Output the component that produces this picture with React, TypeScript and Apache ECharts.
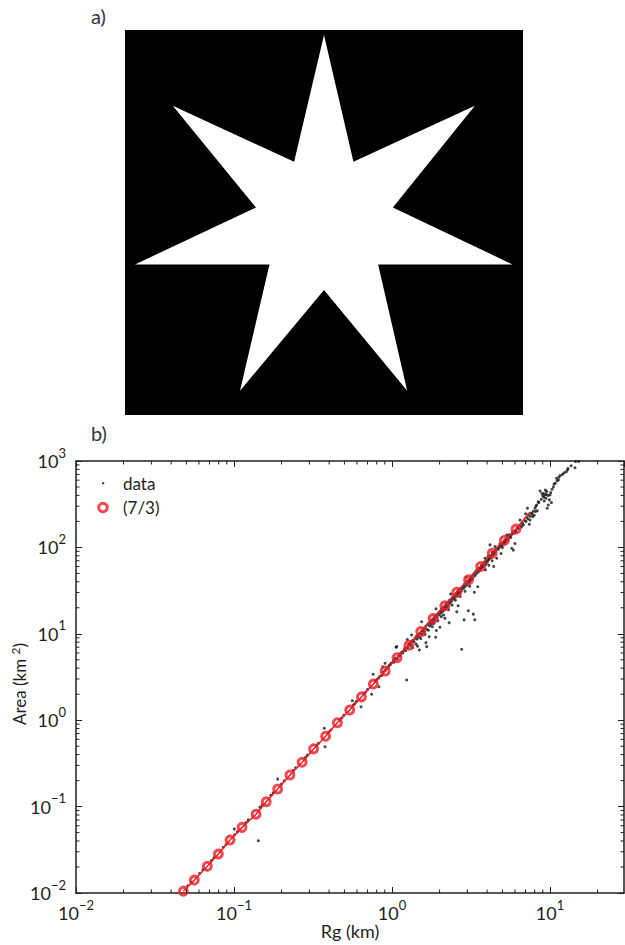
import React, { useEffect, useRef } from 'react';
import * as echarts from 'echarts';

// ---- panel a) : heptagram outline (panel units 0..100, y up)
const starVertices: [number, number][] = [
  [50, 98.7], [57.4, 65.8], [87.9, 80.3], [67.3, 53.9], [97.4, 39.1], [63.6, 39.1], [70.9, 6.3],
  [50, 32.5], [28.9, 6.3], [36.3, 39.1], [2.5, 39.1], [32.9, 53.9], [12.0, 80.3], [42.5, 65.8],
];

// ---- panel b) : axes
const xMin = 0.01;
const xMax = 29.4;
const yMin = 0.01;
const yMax = 1000;
const xMinorTicks = [
  0.02, 0.03, 0.04, 0.05, 0.06, 0.07, 0.08, 0.09,
  0.2, 0.3, 0.4, 0.5, 0.6, 0.7, 0.8, 0.9,
  2, 3, 4, 5, 6, 7, 8, 9, 20,
];
const yMinorTicks = [
  0.02, 0.03, 0.04, 0.05, 0.06, 0.07, 0.08, 0.09,
  0.2, 0.3, 0.4, 0.5, 0.6, 0.7, 0.8, 0.9,
  2, 3, 4, 5, 6, 7, 8, 9,
  20, 30, 40, 50, 60, 70, 80, 90,
  200, 300, 400, 500, 600, 700, 800, 900,
];

// ---- (7/3) model: circle markers
const fitRg = [0.0478, 0.0561, 0.0678, 0.0796, 0.0944, 0.1125, 0.138, 0.16, 0.189, 0.226, 0.27, 0.319, 0.38, 0.451, 0.54, 0.64, 0.762, 0.906, 1.076, 1.28, 1.52, 1.82, 2.16, 2.57, 3.05, 3.64, 4.31, 5.14, 6.09];
const fitArea = [0.0105, 0.0141, 0.0204, 0.0282, 0.041, 0.0575, 0.0817, 0.114, 0.16, 0.232, 0.326, 0.465, 0.652, 0.935, 1.31, 1.86, 2.62, 3.71, 5.28, 7.36, 10.6, 15.0, 21.1, 30.2, 42.3, 60.1, 85.5, 120, 163];
const fitLineEnd: [number, number] = [7.47, 255];

// ---- measured data (Rg km, Area km^2)
const dataPoints: [number, number][] = [
  [0.051, 0.0121], [0.0535, 0.0132], [0.0605, 0.0168], [0.0635, 0.0186], [0.072, 0.0238], [0.0745, 0.0256],
  [0.0855, 0.0337], [0.089, 0.0362], [0.101, 0.0472], [0.105, 0.051], [0.1005, 0.0551], [0.119, 0.0655],
  [0.123, 0.0702], [0.1426, 0.0403], [0.146, 0.0985], [0.151, 0.104], [0.171, 0.135], [0.177, 0.144],
  [0.189, 0.208], [0.2, 0.183], [0.208, 0.199], [0.238, 0.262], [0.246, 0.281], [0.284, 0.372], [0.292, 0.395],
  [0.335, 0.515], [0.343, 0.54], [0.373, 0.806], [0.377, 0.493], [0.398, 0.728], [0.41, 0.77], [0.468, 1.01],
  [0.48, 1.06], [0.495, 1.14], [0.561, 1.68], [0.568, 1.49], [0.58, 1.55], [0.595, 1.64], [0.637, 1.43],
  [0.665, 2.04], [0.68, 2.12], [0.7, 2.27], [0.743, 2.0], [0.76, 3.4], [0.785, 2.83], [0.8, 2.95], [0.827, 2.44],
  [0.835, 3.2], [0.873, 4.16], [0.904, 4.56], [0.93, 3.98], [0.95, 4.15], [0.975, 4.4], [0.99, 4.6],
  [0.82, 3.05], [0.86, 3.3], [0.88, 3.6], [0.91, 3.8], [0.96, 4.3],
  [1.02, 4.9], [1.05, 5.25], [1.06, 6.98], [1.07, 7.1], [1.1, 5.5], [1.12, 5.85], [1.15, 6.1], [1.18, 6.3],
  [1.2, 6.75], [1.24, 2.92], [1.24, 7.0], [1.25, 8.6], [1.27, 7.5], [1.3, 7.7], [1.33, 8.2], [1.33, 9.7],
  [1.36, 8.4], [1.4, 8.9], [1.43, 9.4], [1.45, 7.2], [1.46, 9.7], [1.49, 6.5], [1.5, 10.1], [1.54, 10.7],
  [1.54, 13.8], [1.57, 11.2], [1.6, 11.6], [1.64, 7.9], [1.64, 12.3], [1.66, 7.1], [1.68, 12.8], [1.71, 13.3],
  [1.72, 9.25], [1.75, 13.9], [1.79, 14.5], [1.84, 13.2], [1.84, 15.3], [1.88, 16.0], [1.89, 9.12], [1.9, 19.5],
  [1.91, 10.9], [1.92, 16.6], [1.97, 17.5], [2.01, 11.9], [2.02, 18.3], [2.06, 19.2], [2.1, 20.1], [2.15, 21.0],
  [2.16, 15.1], [2.2, 22.2], [2.25, 23.0], [2.3, 13.4], [2.3, 24.2], [2.35, 28.8], [2.36, 25.3], [2.42, 26.6],
  [2.48, 27.9], [2.55, 29.4], [2.57, 18.0], [2.6, 30.9], [2.62, 21.1], [2.66, 32.1], [2.72, 33.6], [2.76, 6.62],
  [2.8, 35.2], [2.86, 14.5], [2.86, 37.1], [2.93, 38.8], [2.95, 45.0], [3.0, 40.8], [3.04, 18.5], [3.08, 42.9],
  [3.15, 45.1], [3.22, 47.2], [3.27, 16.9], [3.3, 49.8], [3.32, 30.2], [3.34, 14.5], [3.38, 52.3], [3.45, 54.6],
  [3.49, 35.1],
  [1.35, 6.9], [1.52, 8.8], [1.7, 11.0], [1.95, 14.2], [2.12, 16.5], [2.4, 21.5], [2.7, 27.0], [3.1, 35.5],
  [2.28, 19.0], [1.62, 9.8], [2.05, 15.8], [2.52, 24.5], [2.9, 31.0], [1.42, 7.6], [1.8, 12.1],
  [1.03, 4.7], [1.08, 5.1], [1.13, 5.6], [1.17, 6.0], [1.22, 6.4], [1.26, 6.9], [1.31, 7.3], [1.38, 8.1],
  [1.44, 8.7], [1.48, 9.2], [1.55, 9.9], [1.59, 10.6], [1.66, 11.3], [1.73, 12.3], [1.77, 12.9], [1.82, 13.8],
  [1.86, 14.6], [1.93, 15.6], [1.99, 16.6],
  [2.04, 17.4], [2.08, 18.0], [2.13, 18.8], [2.18, 19.8], [2.22, 20.6], [2.27, 21.6], [2.33, 22.7], [2.38, 23.8],
  [2.45, 25.1], [2.5, 26.3], [2.58, 27.5], [2.63, 29.1], [2.68, 30.0], [2.75, 31.6], [2.83, 33.4], [2.88, 34.8],
  [2.97, 36.5], [3.05, 38.6], [3.12, 40.5], [3.18, 42.5], [3.25, 44.2], [3.35, 47.0], [3.42, 49.5],
  [3.55, 57.2], [3.6, 58], [3.68, 62.1], [3.75, 60], [3.8, 66.0], [3.88, 74.8], [3.9, 55], [3.95, 70.2],
  [4.0, 72], [4.05, 78], [4.1, 62], [4.15, 80], [4.17, 107], [4.22, 76], [4.3, 88], [4.3, 70], [4.4, 85],
  [4.4, 60], [4.49, 102], [4.55, 94], [4.6, 75], [4.65, 98], [4.75, 104], [4.83, 110], [4.9, 85], [4.95, 108],
  [5.05, 114], [5.15, 120], [5.25, 124], [5.32, 139], [5.4, 131], [5.52, 140], [5.6, 136], [5.72, 97.7],
  [5.8, 150], [5.86, 93], [6.0, 111], [6.05, 158], [6.2, 170], [6.46, 207], [6.5, 180], [6.78, 182], [6.9, 205],
  [3.52, 52], [3.58, 54.5], [3.65, 57], [3.72, 59.5], [3.82, 62], [3.86, 68], [3.93, 64], [4.02, 68],
  [4.08, 72], [4.13, 74], [4.25, 79], [4.35, 82], [4.45, 88], [4.52, 90], [4.7, 95], [4.78, 100], [4.88, 104],
  [5.0, 100], [5.1, 110], [5.2, 115], [5.35, 122], [5.45, 126], [5.65, 130], [5.75, 142], [5.95, 146],
  [6.1, 152], [6.3, 165], [6.6, 172], [6.7, 190], [7.05, 200], [7.25, 215], [7.5, 230], [7.7, 245],
  [8.1, 260], [8.15, 300],
  [7.0, 245], [7.1, 222], [7.2, 284], [7.3, 238], [7.4, 185], [7.47, 207], [7.6, 250], [7.77, 227], [7.85, 262],
  [7.95, 235], [8.04, 284], [8.23, 310], [8.3, 265], [8.43, 338], [8.65, 450], [9.0, 395], [9.1, 420],
  [9.2, 345], [9.29, 404], [9.35, 460], [9.43, 370], [9.53, 442], [9.6, 284], [9.76, 310], [9.9, 355],
  [10.0, 404], [10.2, 330], [10.3, 470], [10.8, 552], [11.0, 631], [11.3, 603], [11.4, 650], [12.7, 752],
  [12.9, 790], [14.4, 836], [14.5, 990], [15.2, 985],
  [8.5, 330], [8.8, 360], [8.9, 420], [9.15, 380], [9.45, 410], [9.7, 400], [10.1, 430], [10.5, 500],
  [10.6, 540], [11.1, 590], [11.6, 680], [12.0, 700], [12.3, 730], [13.0, 820], [13.6, 880],
];

const RED = '#ec1c24';
const INK = '#231f20';
const FONT = 'Lato, "Liberation Sans", sans-serif';

const supRich = {
  b: { fontSize: 18, lineHeight: 30, fontFamily: FONT, color: INK },
  s: { fontSize: 13, lineHeight: 13, verticalAlign: 'top', fontFamily: FONT, color: INK },
};

function powLabel(v: number): string {
  const lg = Math.log10(v);
  const e = Math.round(lg);
  if (Math.abs(lg - e) > 1e-6) return '';
  const s = e < 0 ? '\u2212' + String(-e) : String(e);
  return `{b|10}{s|${s}}`;
}

function minorTickRenderer(dir: 'x' | 'y') {
  return (params: any, api: any) => {
    const cs = params.coordSys;
    const len = 3.5;
    const style = { stroke: INK, lineWidth: 1 };
    if (dir === 'x') {
      const x = api.coord([api.value(0), 1])[0];
      const yb = cs.y + cs.height;
      const yt = cs.y;
      return {
        type: 'group',
        children: [
          { type: 'line', shape: { x1: x, y1: yb, x2: x, y2: yb - len }, style },
          { type: 'line', shape: { x1: x, y1: yt, x2: x, y2: yt + len }, style },
        ],
      };
    }
    const y = api.coord([1, api.value(1)])[1];
    const xl = cs.x;
    const xr = cs.x + cs.width;
    return {
      type: 'group',
      children: [
        { type: 'line', shape: { x1: xl, y1: y, x2: xl + len, y2: y }, style },
        { type: 'line', shape: { x1: xr, y1: y, x2: xr - len, y2: y }, style },
      ],
    };
  };
}

export default function App() {
  const ref = useRef<HTMLDivElement>(null);

  useEffect(() => {
    if (!ref.current) return;
    const chart = echarts.init(ref.current, undefined, { renderer: 'svg' });

    const axisLine = { show: true, onZero: false, lineStyle: { color: INK, width: 1.5 } };
    const axisTick = { show: true, inside: true, length: 6, lineStyle: { color: INK, width: 1 } };

    const fitLine: [number, number][] = fitRg.map((r, i) => [r, fitArea[i]] as [number, number]);
    fitLine.push(fitLineEnd);
    const fitPoints = fitRg.map((r, i) => [r, fitArea[i]]);

    const titleStyle = { fontSize: 20, fontWeight: 'normal', fontFamily: FONT, color: '#333' };

    chart.setOption({
      animation: false,
      backgroundColor: '#fff',
      title: [
        { text: 'a)', left: 86, top: 1, textStyle: titleStyle },
        { text: 'b)', left: 86, top: 418, textStyle: titleStyle },
      ],
      legend: {
        orient: 'vertical',
        left: 83,
        top: 470,
        itemWidth: 30,
        itemHeight: 8.5,
        itemGap: 7,
        textStyle: { fontSize: 17, fontFamily: FONT, color: INK, lineHeight: 17 },
        data: [
          { name: 'data', icon: 'path://M0,0M30,8M14,2.6h2.2v2.2h-2.2z', itemStyle: { color: INK } },
          { name: '(7/3)', icon: 'circle', itemStyle: { color: '#fff', borderColor: RED, borderWidth: 3 } },
        ],
      },
      grid: [
        { left: 125, top: 30, width: 398, height: 385, show: true, backgroundColor: '#000', borderWidth: 0, outerBoundsMode: 'none', containLabel: false },
        { left: 76, top: 461, width: 548, height: 432, outerBoundsMode: 'none', containLabel: false },
      ],
      xAxis: [
        { gridIndex: 0, type: 'value', min: 0, max: 100, show: false },
        {
          gridIndex: 1, type: 'log', logBase: 10, min: xMin, max: xMax, position: 'bottom',
          axisLine, axisTick, splitLine: { show: false }, minorTick: { show: false },
          axisLabel: { margin: 5, formatter: powLabel, rich: supRich, showMaxLabel: false },
          name: 'Rg (km)', nameLocation: 'middle', nameGap: 29, nameMoveOverlap: false,
          nameTextStyle: { fontSize: 18, fontFamily: FONT, color: INK },
        },
        {
          gridIndex: 1, type: 'log', logBase: 10, min: xMin, max: xMax, position: 'top',
          axisLine, axisTick, splitLine: { show: false }, axisLabel: { show: false },
        },
      ],
      yAxis: [
        { gridIndex: 0, type: 'value', min: 0, max: 100, show: false },
        {
          gridIndex: 1, type: 'log', logBase: 10, min: yMin, max: yMax, position: 'left',
          axisLine, axisTick, splitLine: { show: false },
          axisLabel: { margin: 10, formatter: powLabel, rich: supRich },
          name: 'Area (km {s|2})', nameLocation: 'middle', nameGap: 47, nameMoveOverlap: false,
          nameTextStyle: {
            fontSize: 17, fontFamily: FONT, color: INK, lineHeight: 20, padding: [0, 14, 0, 0],
            rich: { s: { fontSize: 12, lineHeight: 12, verticalAlign: 'top', fontFamily: FONT, color: INK } },
          },
        },
        {
          gridIndex: 1, type: 'log', logBase: 10, min: yMin, max: yMax, position: 'right',
          axisLine, axisTick, splitLine: { show: false }, axisLabel: { show: false },
        },
      ],
      series: [
        {
          type: 'custom', name: 'star', xAxisIndex: 0, yAxisIndex: 0, data: [[50, 50]], silent: true,
          renderItem: (params: any, api: any) => ({
            type: 'polygon',
            shape: { points: starVertices.map((v) => api.coord(v)) },
            style: { fill: '#fff' },
          }),
        },
        {
          type: 'scatter', name: 'data', xAxisIndex: 1, yAxisIndex: 1, data: dataPoints,
          symbol: 'circle', symbolSize: 3, itemStyle: { color: '#161616' }, z: 2,
        },
        {
          type: 'line', name: 'fit', xAxisIndex: 1, yAxisIndex: 1, data: fitLine,
          symbol: 'none', lineStyle: { color: RED, width: 1.5 }, z: 3,
        },
        {
          type: 'scatter', name: '(7/3)', xAxisIndex: 1, yAxisIndex: 1, data: fitPoints,
          symbol: 'circle', symbolSize: 8,
          itemStyle: { color: 'rgba(0,0,0,0)', borderColor: RED, borderWidth: 3 }, z: 4,
        },
        {
          type: 'custom', name: 'xminor', xAxisIndex: 1, yAxisIndex: 1, silent: true, clip: false, z: 10,
          data: xMinorTicks.map((v) => [v, 1]), renderItem: minorTickRenderer('x'),
        },
        {
          type: 'custom', name: 'yminor', xAxisIndex: 1, yAxisIndex: 1, silent: true, clip: false, z: 10,
          data: yMinorTicks.map((v) => [1, v]), renderItem: minorTickRenderer('y'),
        },
      ],
    });

    return () => chart.dispose();
  }, []);

  return (
    <div
      ref={ref}
      style={{ position: 'absolute', left: 0, top: 0, width: 625, height: 945 }}
    />
  );
}
